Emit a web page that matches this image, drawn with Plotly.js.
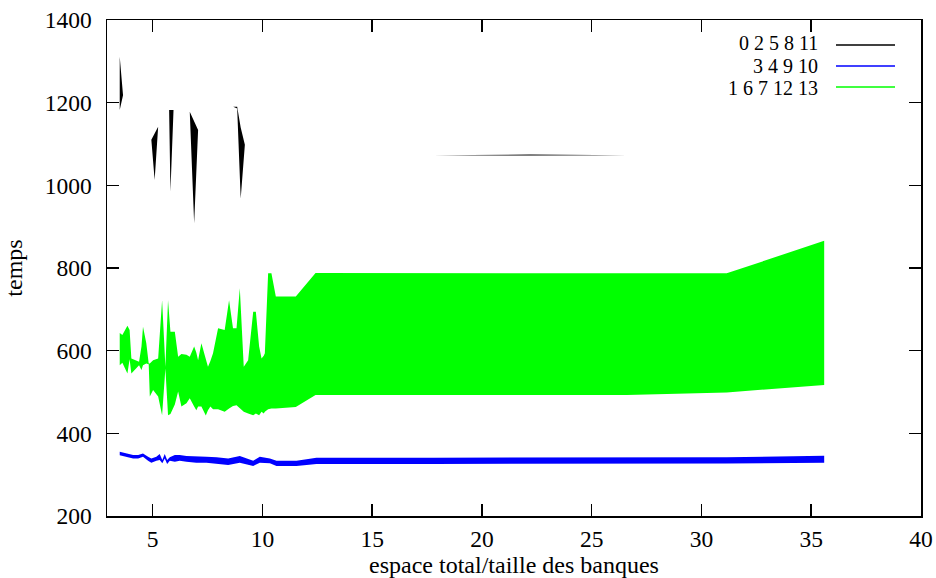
<!DOCTYPE html>
<html>
<head>
<meta charset="utf-8">
<script src="https://cdn.plot.ly/plotly-3.0.1.min.js"></script>
<style>html,body{margin:0;padding:0;background:#fff;}#chart{width:936px;height:578px;}</style>
</head>
<body>
<div id="chart"></div>
<script>
// ---- data ----
const seriesNames = ["0 2 5 8 11", "3 4 9 10", "1 6 7 12 13"];

const blackX     = [3.50, 3.65, 4.94, 5.09, 5.25, 5.75, 5.81, 5.95, 6.69, 6.89, 7.07, 8.67, 8.85, 9.01, 9.20, 10.30, 12.42, 17.80, 22.20, 26.60];
const blackUpper = [1311, 1218, 1110, 1126, 1142, 1182, 1182, 1182, 1178, 1156, 1134, 1190, 1190, 1140, 1098, 1090, 1080, 1073, 1074.5, 1073];
const blackLower = [1182, 1218, 1110, 1013, 1142, 1182, 985, 1182, 1178, 908, 1134, 1190, 1186, 968, 1098, 1090, 1080, 1073, 1072, 1073];

const blueX     = [3.50, 3.80, 4.11, 4.34, 4.56, 4.79, 4.94, 5.17, 5.32, 5.44, 5.55, 5.66, 5.78, 6.01, 6.23, 6.54, 6.99, 7.45, 7.91, 8.44, 8.97, 9.27, 9.58, 9.88, 10.34, 10.64, 11.10, 11.55, 12.01, 12.46, 17.80, 22.20, 26.60, 31.15, 35.59];
const blueUpper = [355.6, 351.5, 347.5, 347.5, 351.5, 343.5, 339.4, 343.5, 350, 335.4, 350, 335.4, 341.9, 347.5, 347.5, 345.1, 345.1, 343.5, 341.9, 339.4, 345.1, 339.4, 333.8, 343.5, 339.4, 333.8, 333.8, 333.8, 337, 341, 341, 341, 341, 342, 346];
const blueLower = [346.7, 343.5, 339.4, 339.4, 343.5, 333.8, 329, 333.8, 335.4, 327.4, 339.4, 325.7, 333.8, 331.4, 333.8, 331.4, 329, 329, 325.7, 323.3, 329, 325.7, 320.9, 329, 327.4, 320.9, 320.9, 320.9, 323.3, 326, 326, 326, 326, 327, 329];

const greenX     = [3.50, 3.62, 3.85, 3.95, 4.03, 4.38, 4.49, 4.56, 4.71, 4.82, 4.87, 5.02, 5.25, 5.43, 5.58, 5.70, 5.81, 6.01, 6.16, 6.31, 6.54, 6.69, 6.89, 6.99, 7.07, 7.22, 7.42, 7.52, 7.63, 7.75, 7.98, 8.28, 8.48, 8.66, 8.82, 8.97, 9.15, 9.35, 9.58, 9.70, 9.85, 9.96, 10.06, 10.11, 10.26, 10.41, 10.61, 11.52, 12.42, 17.80, 22.20, 26.60, 31.15, 35.59];
const greenUpper = [643, 638, 660, 650, 581, 573, 610, 658, 618, 569, 569, 577, 581, 722, 561, 722, 646, 646, 585, 592, 590, 585, 610, 595, 577, 618, 580, 561, 575, 594, 654, 650, 722, 654, 654, 751, 561, 577, 694, 694, 610, 581, 588, 594, 787, 787, 731, 731, 788, 788, 788, 787, 787, 866];
const greenLower = [565, 571, 545, 579, 545, 565, 553, 565, 569, 567, 489, 505, 489, 444, 557, 444, 447, 470, 501, 465, 473, 485, 465, 456, 465, 465, 443, 456, 465, 458, 458, 452, 460, 466, 468, 460, 452, 448, 444, 448, 444, 452, 448, 452, 458, 460, 460, 464, 493, 493, 493, 493, 499, 517];

const xTickVals = [5, 10, 15, 20, 25, 30, 35, 40];
const yTickVals = [200, 400, 600, 800, 1000, 1200, 1400];
const xTitle = "espace total/taille des banques";
const yTitle = "temps";

// ---- styling ----
const colors = ["#000000", "#0000ff", "#00ff00"];
const FONT = "Liberation Serif";

function band(x, lo, hi, color, name) {
  return [
    {x: x, y: lo, type: "scatter", mode: "lines", line: {width: 0, color: color}, hoverinfo: "skip", showlegend: false, name: name + " min"},
    {x: x, y: hi, type: "scatter", mode: "lines", fill: "tonexty", fillcolor: color, line: {width: 0, color: color}, showlegend: false, name: name}
  ];
}

const data = [].concat(
  band(blackX, blackLower, blackUpper, colors[0], seriesNames[0]),
  band(blueX, blueLower, blueUpper, colors[1], seriesNames[1]),
  band(greenX, greenLower, greenUpper, colors[2], seriesNames[2])
);

// legend drawn gnuplot-style: right-aligned text, sample line on the right
const L = 107, W = 814, B = 516, H = 496;
const legendRowsPx = [43.5, 66, 88.5];
const annotations = seriesNames.map((s, i) => ({
  text: s, xref: "paper", yref: "paper",
  x: (819 - L) / W, y: (B - legendRowsPx[i]) / H,
  xanchor: "right", yanchor: "middle", showarrow: false, borderpad: 0,
  font: {family: FONT, size: 20, color: "#000"}
}));
const shapes = seriesNames.map((s, i) => ({
  type: "line", xref: "paper", yref: "paper",
  x0: (836 - L) / W, x1: (895 - L) / W,
  y0: (B - [45, 66, 87][i]) / H, y1: (B - [45, 66, 87][i]) / H,
  line: {color: colors[i], width: 1.5}
}));

const axisCommon = {
  showgrid: false, zeroline: false, showline: true, linecolor: "#000", linewidth: 1.5,
  mirror: "allticks", ticks: "inside", ticklen: 12, tickwidth: 1.5, tickcolor: "#000",
  tickfont: {family: FONT, size: 23.5, color: "#000"}, automargin: false
};

const layout = {
  width: 936, height: 578,
  margin: {l: L, r: 936 - 921, t: 20, b: 578 - 516},
  paper_bgcolor: "#fff", plot_bgcolor: "#fff",
  showlegend: false,
  font: {family: FONT, size: 23.5, color: "#000"},
  xaxis: Object.assign({}, axisCommon, {
    range: [2.92, 40], tickvals: xTickVals, ticktext: xTickVals.map(String),
    ticklabelstandoff: 1,
    title: {text: xTitle, font: {family: FONT, size: 24, color: "#000"}, standoff: 1}
  }),
  yaxis: Object.assign({}, axisCommon, {
    range: [200, 1400], tickvals: yTickVals, ticktext: yTickVals.map(String),
    ticklabelstandoff: 9,
    title: {text: yTitle, font: {family: FONT, size: 24, color: "#000"}, standoff: 15}
  }),
  annotations: annotations,
  shapes: shapes
};

Plotly.newPlot("chart", data, layout, {staticPlot: true, displayModeBar: false});
</script>
</body>
</html>
